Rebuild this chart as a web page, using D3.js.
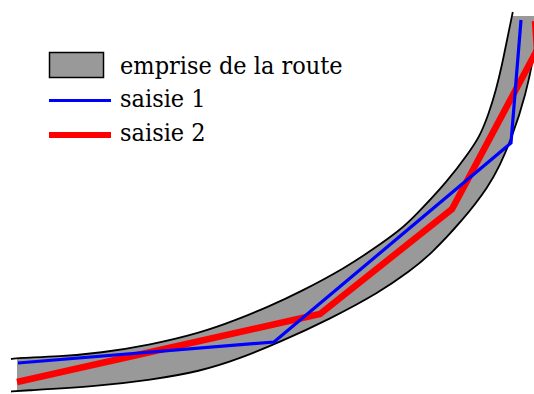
<!DOCTYPE html>
<html>
<head>
<meta charset="utf-8">
<script src="https://cdn.jsdelivr.net/npm/d3@7"></script>
<style>
  body { margin: 0; background: #fff; }
  .legend-label { font-family: 'DejaVu Serif Condensed', 'DejaVu Serif', 'Liberation Serif', 'Times New Roman', Times, serif; font-stretch: condensed; }
</style>
</head>
<body>
<svg id="svg" width="534" height="394"></svg>
<script>
// road edges, in metres (x to the east, y to the north)
let innerEdge = [
  [-1.2, 6.4], [0, 6.6], [8.6, 6.9], [16.6, 7.6], [26.6, 9.2], [36.6, 11.6],
  [43.6, 14.1], [50.6, 17], [56.6, 19.8], [65.6, 24.6], [71.6, 28.6], [76.6, 32.2],
  [79.2, 34.6], [86.2, 42], [90.6, 48], [92.6, 51], [94.4, 55.6], [95.8, 60.2],
  [97, 65.2], [98, 70.2], [99.16, 75.8]
]
let outerEdge = [
  [-1.2, -0.1], [0, 0], [16.6, 1], [26.6, 2.2], [36.6, 3.9], [44.6, 6.5],
  [52.6, 9.8], [62.6, 14.4], [72.6, 19.8], [78.6, 24], [82.6, 27.2], [89.2, 34.2],
  [94.4, 41], [96.6, 45.2], [98.8, 50.2], [101.8, 59.2], [103.8, 69.2], [104.8, 77.2]
]
// the two digitised axes
let saisie1 = [[0.2, 5.6], [51.4, 9.8], [98.8, 49.6], [100.8, 74.2]]
let saisie2 = [[0, 1.8], [60.6, 15.4], [87, 36.4], [104, 68.2], [103.6, 74]]

let legendLabels = ['emprise de la route', 'saisie 1', 'saisie 2']

let svg = d3.select('#svg')

let xScale = d3.scaleLinear().domain([0, 100]).range([17, 517])
let yScale = d3.scaleLinear().domain([0, 75]).range([391, 16])

let polyline = d3.line()
  .x(d => xScale(d[0]))
  .y(d => yScale(d[1]))

let edgeLine = d3.line()
  .x(d => xScale(d[0]))
  .y(d => yScale(d[1]))
  .curve(d3.curveBasis)

// the grey fill stops at x = 0 and y = 75
svg.append('clipPath')
  .attr('id', 'roadClip')
  .append('rect')
  .attr('x', xScale(0))
  .attr('y', yScale(75))
  .attr('width', 600)
  .attr('height', 600)

let roadPath = edgeLine(innerEdge) + edgeLine(outerEdge.slice().reverse()).replace('M', 'L') + 'Z'

svg.append('path')
  .attr('d', roadPath)
  .attr('fill', '#999999')
  .attr('clip-path', 'url(#roadClip)')

svg.selectAll('.edge')
  .data([innerEdge, outerEdge])
  .enter()
  .append('path')
  .attr('class', 'edge')
  .attr('d', d => edgeLine(d))
  .attr('fill', 'none')
  .attr('stroke', '#000')
  .attr('stroke-width', 1.8)

svg.append('path')
  .attr('d', polyline(saisie2))
  .attr('fill', 'none')
  .attr('stroke', '#ff0000')
  .attr('stroke-width', 6.5)
  .attr('stroke-linejoin', 'miter')

svg.append('path')
  .attr('d', polyline(saisie1))
  .attr('fill', 'none')
  .attr('stroke', '#0000ff')
  .attr('stroke-width', 3.2)
  .attr('stroke-linejoin', 'miter')

// legend
let legend = svg.append('g')

legend.append('rect')
  .attr('x', 49.5)
  .attr('y', 52.5)
  .attr('width', 54)
  .attr('height', 25)
  .attr('fill', '#999999')
  .attr('stroke', '#000')
  .attr('stroke-width', 1.5)

legend.append('line')
  .attr('x1', 49).attr('x2', 111)
  .attr('y1', 100.5).attr('y2', 100.5)
  .attr('stroke', '#0000ff')
  .attr('stroke-width', 3)

legend.append('line')
  .attr('x1', 49).attr('x2', 111)
  .attr('y1', 135).attr('y2', 135)
  .attr('stroke', '#ff0000')
  .attr('stroke-width', 6)

legend.selectAll('text')
  .data(legendLabels)
  .enter()
  .append('text')
  .attr('class', 'legend-label')
  .attr('x', 120)
  .attr('y', (d, i) => 73.5 + i * 33.5)
  .attr('font-size', 25)
  .attr('fill', '#000')
  .text(d => d)
</script>
</body>
</html>
